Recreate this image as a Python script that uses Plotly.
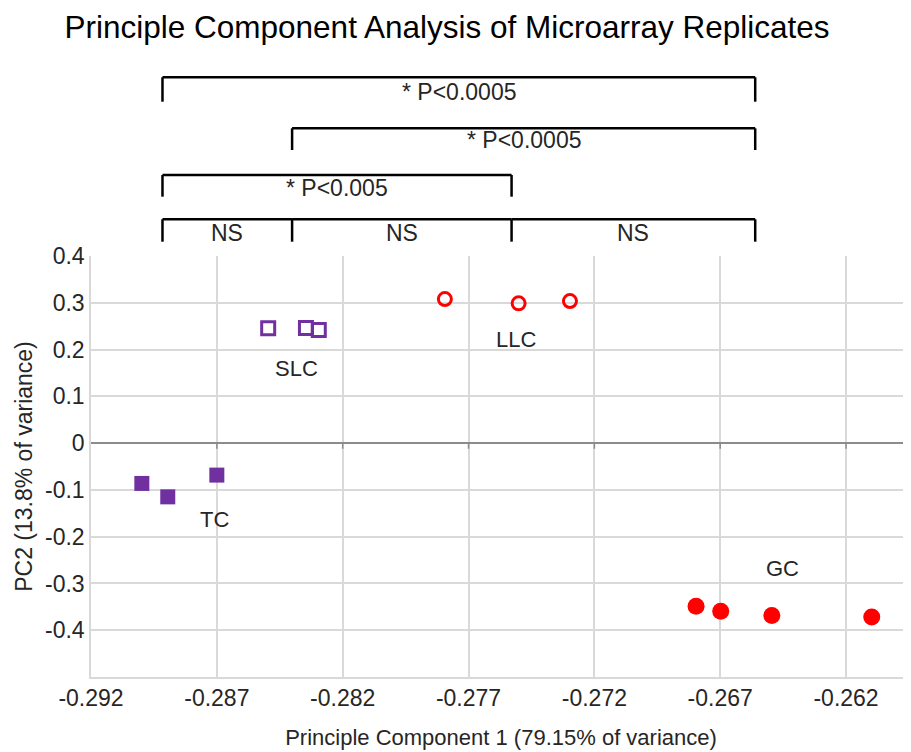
import plotly.graph_objects as go

# ---- data ----
tc_x = [-0.28998, -0.28895, -0.28700]
tc_y = [-0.0862, -0.1149, -0.0684]
slc_x = [-0.28496, -0.28346, -0.28295]
slc_y = [0.2453, 0.2460, 0.2417]
llc_x = [-0.27794, -0.27501, -0.27297]
llc_y = [0.3080, 0.2988, 0.3037]
gc_x = [-0.26796, -0.26698, -0.26495, -0.26098]
gc_y = [-0.3487, -0.3594, -0.3685, -0.3715]

group_names = ["TC", "SLC", "LLC", "GC"]
label_x = [-0.28708, -0.28383, -0.27513, -0.26452]
label_y = [-0.1626, 0.1604, 0.2225, -0.2674]

# bracket end positions (x in PC1 units) per group
bracket_pos = {"TC": -0.28916, "SLC": -0.28401, "LLC": -0.27529, "GC": -0.26561}
# comparisons: (left group, right group, label, level from top)
comparisons = [
    ("TC", "GC", "* P<0.0005", 0),
    ("SLC", "GC", "* P<0.0005", 1),
    ("TC", "LLC", "* P<0.005", 2),
    ("TC", "SLC", "NS", 3),
    ("SLC", "LLC", "NS", 3),
    ("LLC", "GC", "NS", 3),
]
level_top = [1.4245, 1.3033, 1.1924, 1.0872]     # paper y of bracket bar
level_bottom = [1.3665, 1.2518, 1.1409, 1.0340]  # paper y of bracket legs
level_text = [1.3903, 1.2755, 1.1622, 1.0553]

x_ticks = [-0.292, -0.287, -0.282, -0.277, -0.272, -0.267, -0.262]
x_ticktext = ["-0.292", "-0.287", "-0.282", "-0.277", "-0.272", "-0.267", "-0.262"]
y_ticks = [-0.4, -0.3, -0.2, -0.1, 0, 0.1, 0.2, 0.3, 0.4]
y_ticktext = ["-0.4", "-0.3", "-0.2", "-0.1", "0", "0.1", "0.2", "0.3", "0.4"]

PURPLE = "#7030A0"
RED = "#FF0000"
FONT = "Arial, Liberation Sans, sans-serif"
TXT = "#262626"
GRID = "#d9d9d9"

fig = go.Figure()
fig.add_trace(go.Scatter(x=tc_x, y=tc_y, mode="markers", name="TC",
                         marker=dict(symbol="square", size=15, color=PURPLE)))
fig.add_trace(go.Scatter(x=slc_x, y=slc_y, mode="markers", name="SLC",
                         marker=dict(symbol="square-open", size=13, color=PURPLE,
                                     line=dict(width=3, color=PURPLE))))
fig.add_trace(go.Scatter(x=llc_x, y=llc_y, mode="markers", name="LLC",
                         marker=dict(symbol="circle-open", size=13, color=RED,
                                     line=dict(width=3, color=RED))))
fig.add_trace(go.Scatter(x=gc_x, y=gc_y, mode="markers", name="GC",
                         marker=dict(symbol="circle", size=17, color=RED)))

annotations = []
for name, lx, ly in zip(group_names, label_x, label_y):
    annotations.append(dict(x=lx, y=ly, xref="x", yref="y", text=name, showarrow=False,
                            font=dict(family=FONT, size=22, color=TXT)))

shapes = []
drawn_bars = set()
for left, right, text, lvl in comparisons:
    x0 = bracket_pos[left]
    x1 = bracket_pos[right]
    top = level_top[lvl]
    bot = level_bottom[lvl]
    shapes.append(dict(type="line", xref="x", yref="paper", x0=x0, x1=x1, y0=top, y1=top,
                       line=dict(color="black", width=2.5)))
    for xe in (x0, x1):
        if (xe, lvl) in drawn_bars:
            continue
        drawn_bars.add((xe, lvl))
        shapes.append(dict(type="line", xref="x", yref="paper", x0=xe, x1=xe, y0=top, y1=bot,
                           line=dict(color="black", width=2.5)))
    annotations.append(dict(x=(x0 + x1) / 2, y=level_text[lvl], xref="x", yref="paper",
                            text=text, showarrow=False, yanchor="middle",
                            font=dict(family=FONT, size=23, color=TXT)))

# small tick marks hanging below the zero line at each x grid position
for xv in x_ticks[1:]:
    shapes.append(dict(type="line", xref="x", yref="y", x0=xv, x1=xv, y0=0, y1=-0.012,
                       line=dict(color="#8c8c8c", width=1.5)))

# page body has an 8px default margin, so the figure is 8px smaller than the window
fig.update_layout(
    width=903, height=744, autosize=False,
    margin=dict(l=83, r=0, t=248, b=75),
    paper_bgcolor="white", plot_bgcolor="white",
    showlegend=False,
    title=dict(text="Principle Component Analysis of Microarray Replicates",
               x=0.4862, xref="container", xanchor="center",
               y=0.9745, yref="container", yanchor="middle",
               font=dict(family=FONT, size=31.5, color="black")),
    xaxis=dict(range=[-0.292, -0.25942], tickvals=x_ticks, ticktext=x_ticktext,
               automargin=False,
               showgrid=True, gridcolor=GRID, gridwidth=1.5,
               showline=True, linecolor=GRID, linewidth=1.5, mirror=False,
               zeroline=False, ticks="",
               tickfont=dict(family=FONT, size=23, color=TXT),
               title=dict(text="Principle Component 1 (79.15% of variance)",
                          font=dict(family=FONT, size=22, color=TXT), standoff=19)),
    yaxis=dict(range=[-0.5, 0.4], tickvals=y_ticks, ticktext=y_ticktext,
               automargin=False,
               showgrid=True, gridcolor=GRID, gridwidth=1.5,
               showline=True, linecolor=GRID, linewidth=1.5,
               zeroline=True, zerolinecolor="#8c8c8c", zerolinewidth=2,
               ticks="",
               tickfont=dict(family=FONT, size=23, color=TXT),
               title=dict(text="PC2 (13.8% of variance)",
                          font=dict(family=FONT, size=23, color=TXT), standoff=6)),
    annotations=annotations,
    shapes=shapes,
)

fig.write_html("out.html")
